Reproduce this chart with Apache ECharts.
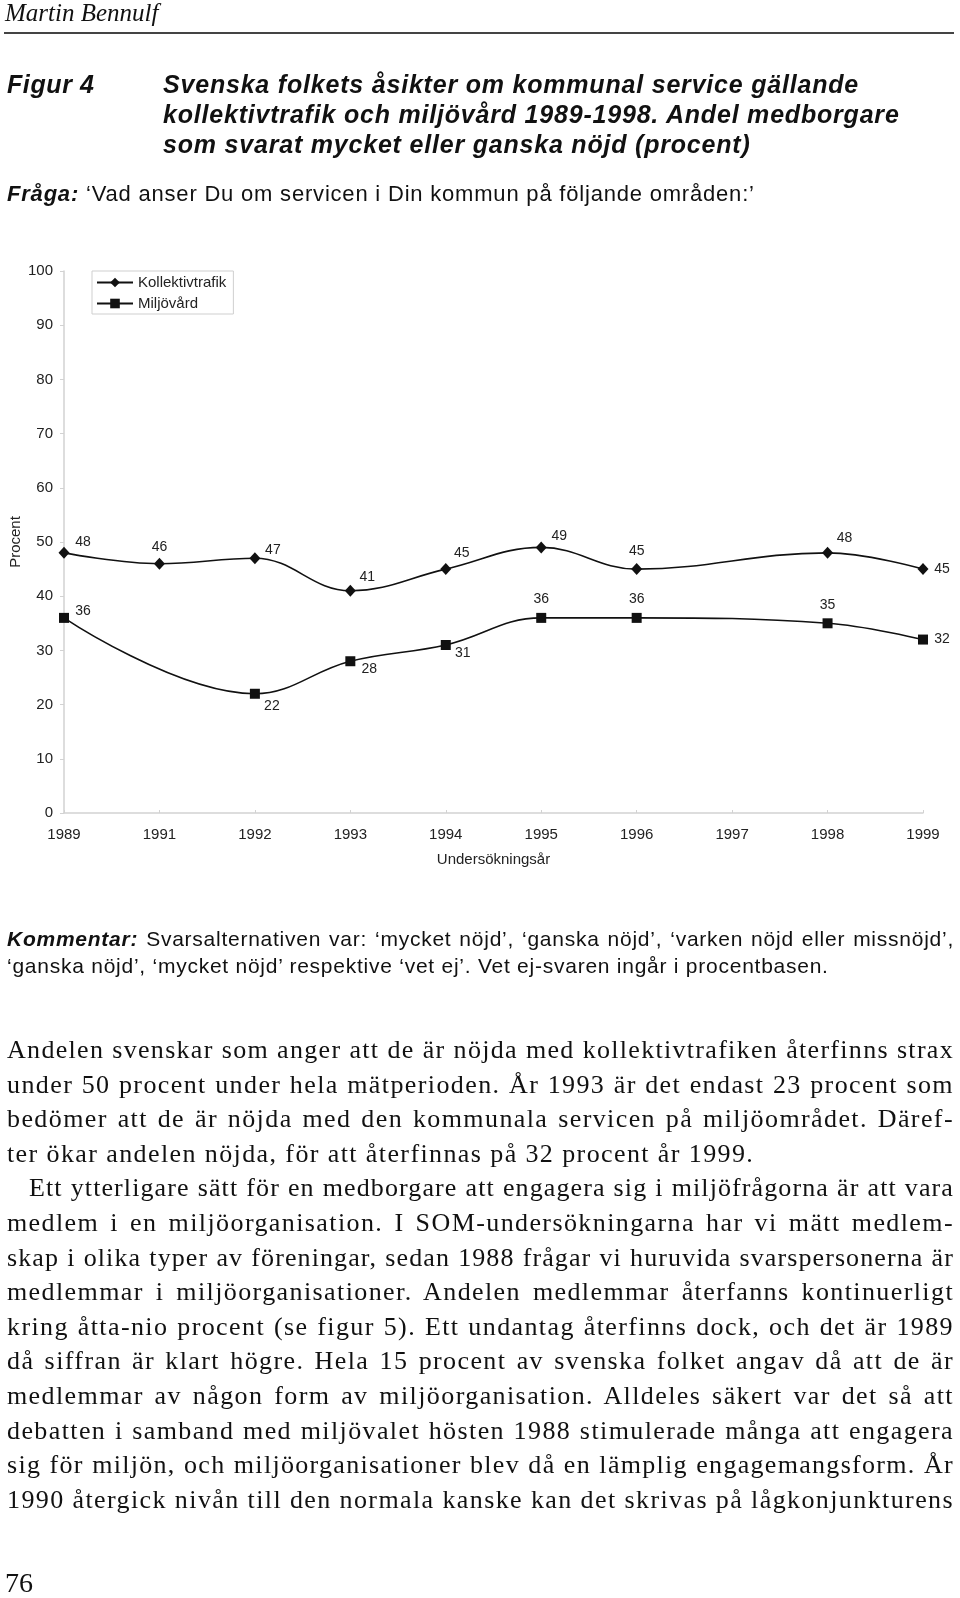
<!DOCTYPE html>
<html>
<head>
<meta charset="utf-8">
<script src="https://cdn.jsdelivr.net/npm/echarts@6/dist/echarts.min.js"></script>
<style>
  html, body { margin: 0; padding: 0; background: #fff; }
  #page { position: relative; width: 960px; height: 1598px; overflow: hidden; }
  #chart { position: absolute; left: 0; top: 0; width: 960px; height: 1598px; }
  .t { position: absolute; white-space: nowrap; color: #111; }
  .sans { font-family: "Liberation Sans", Arial, sans-serif; }
  .serif { font-family: "Liberation Serif", "Times New Roman", serif; }
  .bi { font-weight: bold; font-style: italic; }
  .body-line { position: absolute; left: 7px; width: 947px; height: 34px; line-height: 34px;
    font-family: "Liberation Serif", serif; font-size: 26px; color: #111;
    text-align: justify; text-align-last: justify; white-space: nowrap; }
  .body-line.last { text-align-last: left; }
</style>
</head>
<body>
<div id="page">
  <div id="chart"></div>

  <div class="t serif" style="left:5px; top:-1px; font-size:25px; line-height:28px; font-style:italic;">Martin Bennulf</div>
  <div style="position:absolute; left:4px; top:32px; width:950px; height:2px; background:#444;"></div>

  <div class="t sans bi" style="left:7px; top:69px; font-size:25px; line-height:30px; letter-spacing:0.6px;">Figur 4</div>
  <div class="t sans bi" style="left:163px; top:69px; font-size:25px; line-height:30px; letter-spacing:0.8px;">Svenska folkets åsikter om kommunal service gällande<br>kollektivtrafik och miljövård 1989-1998. Andel medborgare<br>som svarat mycket eller ganska nöjd (procent)</div>

  <div class="t sans" style="left:7px; top:181px; font-size:22px; line-height:26px; letter-spacing:0.8px;"><b><i>Fråga:</i></b> ‘Vad anser Du om servicen i Din kommun på följande områden:’</div>

  <div class="t sans" style="left:7px; top:926px; width:947px; font-size:21px; line-height:26.5px; white-space:normal; text-align:justify; letter-spacing:0.75px;">
    <div style="text-align-last:justify; white-space:nowrap;"><b><i>Kommentar:</i></b> Svarsalternativen var: ‘mycket nöjd’, ‘ganska nöjd’, ‘varken nöjd eller missnöjd’,</div>
    <div style="white-space:nowrap;">‘ganska nöjd’, ‘mycket nöjd’ respektive ‘vet ej’. Vet ej-svaren ingår i procentbasen.</div>
  </div>

  <div id="body-text"></div>

  <div class="t serif" style="left:5px; top:1567px; font-size:28px; line-height:32px;">76</div>
</div>

<script>
// survey years on the x axis (1990 not surveyed)
const years = ['1989', '1991', '1992', '1993', '1994', '1995', '1996', '1997', '1998', '1999'];
// share "mycket eller ganska nöjd", procent; null = no point that year
const kollektivtrafik = [48, 46, 47, 41, 45, 49, 45, null, 48, 45];
const miljovard = [36, null, 22, 28, 31, 36, 36, null, 35, 32];

// where each value label sits relative to its marker
const kollLabelOffset = [[19, -11], [0, -17], [18, -8], [17, -14], [16, -16], [18, -11], [0, -18], null, [17, -15], [19, 0]];
const miljLabelOffset = [[19, -7], null, [17, 12], [19, 8], [17, 8], [0, -19], [0, -19], null, [0, -18], [19, 0]];

const bodyLines = [
  'Andelen svenskar som anger att de är nöjda med kollektivtrafiken återfinns strax',
  'under 50 procent under hela mätperioden. År 1993 är det endast 23 procent som',
  'bedömer att de är nöjda med den kommunala servicen på miljöområdet. Däref-',
  'ter ökar andelen nöjda, för att återfinnas på 32 procent år 1999.',
  'Ett ytterligare sätt för en medborgare att engagera sig i miljöfrågorna är att vara',
  'medlem i en miljöorganisation. I SOM-undersökningarna har vi mätt medlem-',
  'skap i olika typer av föreningar, sedan 1988 frågar vi huruvida svarspersonerna är',
  'medlemmar i miljöorganisationer. Andelen medlemmar återfanns kontinuerligt',
  'kring åtta-nio procent (se figur 5). Ett undantag återfinns dock, och det är 1989',
  'då siffran är klart högre. Hela 15 procent av svenska folket angav då att de är',
  'medlemmar av någon form av miljöorganisation. Alldeles säkert var det så att',
  'debatten i samband med miljövalet hösten 1988 stimulerade många att engagera',
  'sig för miljön, och miljöorganisationer blev då en lämplig engagemangsform. År',
  '1990 återgick nivån till den normala kanske kan det skrivas på lågkonjunkturens'
];

const bodyBox = document.getElementById('body-text');
bodyLines.forEach((txt, i) => {
  const d = document.createElement('div');
  d.className = 'body-line' + (i === 3 ? ' last' : '');
  d.style.top = (1033 + i * 34.6) + 'px';
  if (i === 4) {
    d.style.left = '29px';
    d.style.width = '925px';
  }
  d.textContent = txt;
  bodyBox.appendChild(d);
  // the book face is wider than Times: open the letters up, but keep each line inside the column
  let ls = 1.4;
  d.style.letterSpacing = ls + 'px';
  while (d.scrollWidth > d.clientWidth && ls > 0) {
    ls = Math.round((ls - 0.1) * 10) / 10;
    d.style.letterSpacing = ls + 'px';
  }
});

const FONT = '"Liberation Sans", Arial, sans-serif';

function withLabels(values, offsets) {
  return values.map((v, i) => {
    if (v === null) return null;
    return {
      value: v,
      label: { show: true, position: 'inside', offset: offsets[i] }
    };
  });
}

const chart = echarts.init(document.getElementById('chart'), null, { renderer: 'canvas' });

const option = {
  animation: false,
  textStyle: { fontFamily: FONT, color: '#222' },
  grid: { left: 64, right: 37, top: 271, bottom: 785, outerBoundsMode: 'none', containLabel: false },
  legend: {
    left: 92,
    top: 271,
    orient: 'vertical',
    itemWidth: 36,
    itemHeight: 12,
    itemGap: 6,
    padding: [4, 7, 3, 4],
    borderColor: '#cfcfcf',
    borderWidth: 1,
    textStyle: { fontFamily: FONT, fontSize: 15, color: '#222' },
    data: ['Kollektivtrafik', 'Miljövård']
  },
  xAxis: {
    type: 'category',
    data: years,
    boundaryGap: false,
    name: 'Undersökningsår',
    nameLocation: 'middle',
    nameGap: 39,
    nameMoveOverlap: false,
    nameTextStyle: { fontFamily: FONT, fontSize: 15, color: '#222' },
    axisLine: { lineStyle: { color: '#d2d2d2', width: 1.5 } },
    axisTick: { inside: true, length: 3, alignWithLabel: true, lineStyle: { color: '#d2d2d2' } },
    axisLabel: { margin: 14, fontSize: 15, color: '#222', fontFamily: FONT },
    splitLine: { show: false }
  },
  yAxis: {
    type: 'value',
    min: 0,
    max: 100,
    interval: 10,
    name: 'Procent',
    nameLocation: 'middle',
    nameGap: 41,
    nameMoveOverlap: false,
    nameTextStyle: { fontFamily: FONT, fontSize: 15, color: '#222' },
    axisLine: { show: true, lineStyle: { color: '#d2d2d2', width: 1.5 } },
    axisTick: { show: true, length: 4, lineStyle: { color: '#d2d2d2' } },
    axisLabel: { margin: 11, fontSize: 15, color: '#222', fontFamily: FONT },
    splitLine: { show: false }
  },
  series: [
    {
      name: 'Kollektivtrafik',
      type: 'line',
      data: withLabels(kollektivtrafik, kollLabelOffset),
      connectNulls: true,
      smooth: 0.4,
      symbol: 'diamond',
      symbolSize: [11, 12],
      showAllSymbol: true,
      lineStyle: { color: '#111', width: 1.6 },
      itemStyle: { color: '#111' },
      label: { fontFamily: FONT, fontSize: 14, color: '#222' }
    },
    {
      name: 'Miljövård',
      type: 'line',
      data: withLabels(miljovard, miljLabelOffset),
      connectNulls: true,
      smooth: 0.4,
      symbol: 'rect',
      symbolSize: 10,
      showAllSymbol: true,
      lineStyle: { color: '#111', width: 1.6 },
      itemStyle: { color: '#111' },
      label: { fontFamily: FONT, fontSize: 14, color: '#222' }
    }
  ]
};

chart.setOption(option);
</script>
</body>
</html>
